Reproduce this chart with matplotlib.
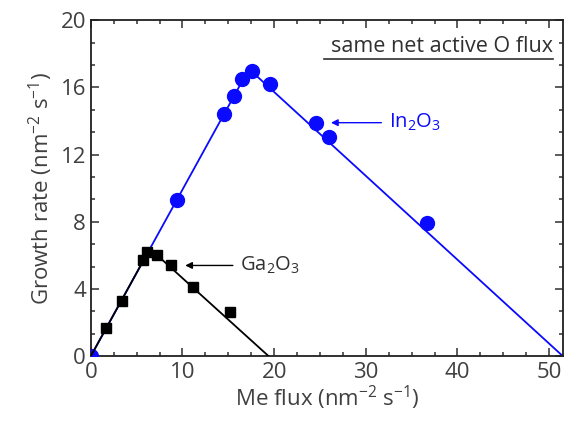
import matplotlib
matplotlib.use("Agg")
import matplotlib.pyplot as plt
from matplotlib.ticker import MultipleLocator

# Data
in_flux = [0.0, 9.35, 14.5, 15.6, 16.5, 17.6, 19.5, 24.6, 26.0, 36.7]
in_rate = [0.0, 9.3, 14.4, 15.5, 16.5, 17.0, 16.2, 13.9, 13.05, 7.9]
ga_flux = [1.7, 3.4, 5.7, 6.15, 7.2, 8.7, 11.1, 15.2]
ga_rate = [1.7, 3.3, 5.7, 6.2, 6.0, 5.4, 4.1, 2.6]
in_line_x = [0.0, 17.25, 51.5]
in_line_y = [0.0, 17.1, 0.0]
ga_line_x = [0.0, 6.45, 19.4]
ga_line_y = [0.0, 6.4, 0.0]

plt.rcParams['font.family'] = ['Open Sans', 'DejaVu Sans']
plt.rcParams['mathtext.fontset'] = 'custom'
plt.rcParams['mathtext.rm'] = 'Open Sans'
plt.rcParams['mathtext.it'] = 'Open Sans'
plt.rcParams['mathtext.default'] = 'regular'
text_col = '#404040'
blue = '#0a0aff'

fig = plt.figure(figsize=(5.64, 4.21), dpi=100)
ax = fig.add_axes([0.161, 0.154, 0.837, 0.798])

ax.plot(in_line_x, in_line_y, color=blue, lw=1.3, zorder=2)
ax.plot(in_flux, in_rate, 'o', color=blue, ms=10, zorder=3)
ax.plot(ga_line_x, ga_line_y, color='black', lw=1.3, zorder=4)
ax.plot(ga_flux, ga_rate, 's', color='black', ms=7.5, zorder=5)

ax.set_xlim(0, 51.5)
ax.set_ylim(0, 20)
ax.xaxis.set_major_locator(MultipleLocator(10))
ax.xaxis.set_minor_locator(MultipleLocator(2.5))
ax.yaxis.set_major_locator(MultipleLocator(4))
ax.yaxis.set_minor_locator(MultipleLocator(4/3))
ax.tick_params(which='both', direction='in', top=True, right=True,
               colors=text_col, labelsize=16, width=1.2)
ax.tick_params(which='major', length=6)
ax.tick_params(which='minor', length=3)
ax.tick_params(axis='x', pad=4)
for s in ax.spines.values():
    s.set_color('#202020')
    s.set_linewidth(1.3)

ax.set_xlabel('Me flux (nm$^{-2}$ s$^{-1}$)', fontsize=16, color=text_col, labelpad=1)
ax.set_ylabel('Growth rate (nm$^{-2}$ s$^{-1}$)', fontsize=16, color=text_col, labelpad=4)

ax.annotate('', xy=(10.0, 5.4), xytext=(15.8, 5.4),
            arrowprops=dict(arrowstyle='-|>', color='black', lw=1.0, mutation_scale=10))
ax.text(16.3, 5.4, 'Ga$_2$O$_3$', fontsize=14.5, color='#303030', va='center', ha='left')
ax.annotate('', xy=(25.9, 13.9), xytext=(32.0, 13.9),
            arrowprops=dict(arrowstyle='-|>', color=blue, lw=1.0, mutation_scale=10))
ax.text(32.5, 13.9, 'In$_2$O$_3$', fontsize=14.5, color=blue, va='center', ha='left')

ax.text(50.4, 18.45, 'same net active O flux', fontsize=15.5, color='#303030',
        ha='right', va='center')
ax.plot([25.4, 50.4], [17.7, 17.7], color='#303030', lw=1.2)

fig.savefig('out.png', dpi=100)
